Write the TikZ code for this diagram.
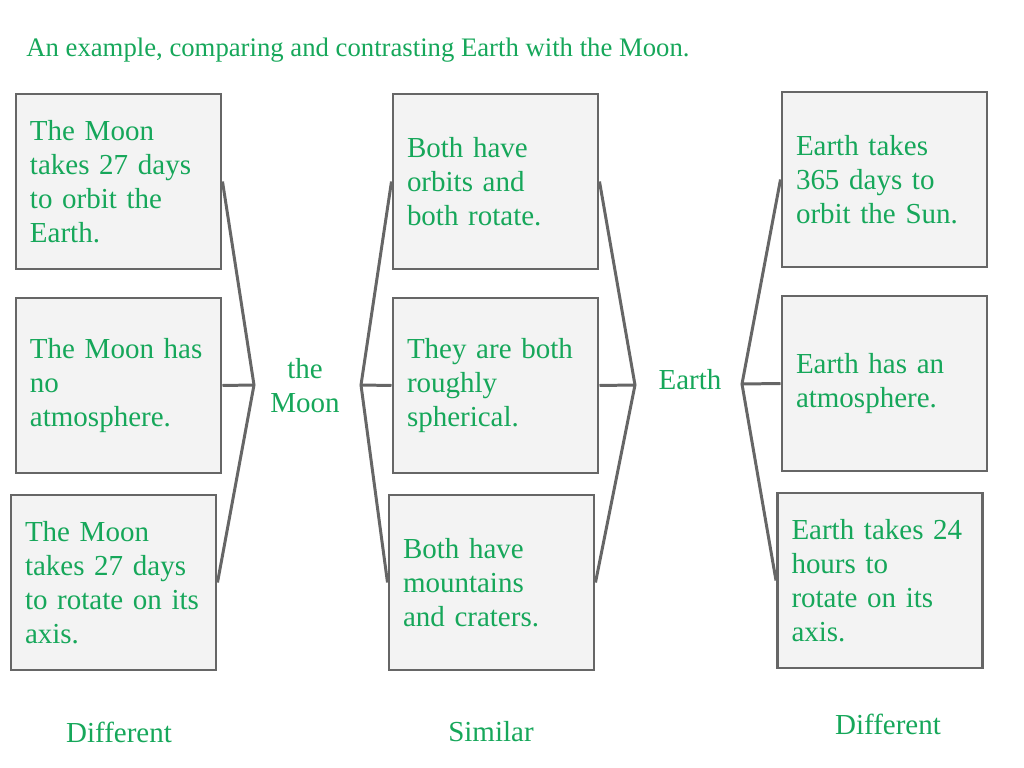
\documentclass[tikz,border=0pt]{standalone}
\usepackage{fontspec}
\setmainfont{Liberation Serif}
\usepackage{xcolor}
\definecolor{txtgreen}{RGB}{22,167,90}
\definecolor{boxgray}{RGB}{243,243,243}
\definecolor{linegray}{RGB}{102,102,102}
\tikzset{
  factbox/.style={draw=linegray, fill=boxgray, line width=1.7pt, minimum width=4.1cm,
    minimum height=3.5cm, text width=3.54cm, inner xsep=0.28cm, align=left,
    text=txtgreen, font=\fontsize{16.5}{19.4}\selectfont},
  plain/.style={text=txtgreen, font=\fontsize{16.5}{19.4}\selectfont, align=center},
  link/.style={draw=linegray, line width=1.7pt}
}
\begin{document}
\begin{tikzpicture}
\useasboundingbox (0,0) rectangle (20.48,-15.36);
\node (title) at (0.52,-1.0) [anchor=west, inner sep=0pt, text=txtgreen, font=\fontsize{15.2}{18}\selectfont] {An example, comparing and contrasting Earth with the Moon.};
% the Moon
\node (L1) at (2.37,-3.63) [factbox] {The Moon\\takes 27 days\\to orbit the\\Earth.};
\node (L2) at (2.37,-7.71) [factbox] {The Moon has\\no\\atmosphere.};
\node (L3) at (2.27,-11.65) [factbox] {The Moon\\takes 27 days\\to rotate on its\\axis.};
% both
\node (M1) at (9.91,-3.63) [factbox] {Both have\\orbits and\\both rotate.};
\node (M2) at (9.91,-7.71) [factbox] {They are both\\roughly\\spherical.};
\node (M3) at (9.83,-11.65) [factbox] {Both have\\mountains\\and craters.};
% Earth
\node (R1) at (17.69,-3.59) [factbox] {Earth takes\\365 days to\\orbit the Sun.};
\node (R2) at (17.69,-7.67) [factbox] {Earth has an\\atmosphere.};
\node (R3) at (17.60,-11.61) [factbox] {Earth takes 24\\hours to\\rotate on its\\axis.};
\coordinate (moonA) at (5.08,-7.70);
\coordinate (moonB) at (7.22,-7.70);
\coordinate (earthA) at (12.70,-7.70);
\coordinate (earthB) at (14.84,-7.68);
\node (moon) at (6.10,-7.72) [plain] {the\\Moon};
\node (earth) at (13.80,-7.60) [plain] {Earth};
\draw [link] (L1.east) -- (moonA) -- (L3.east);
\draw [link] (L2.east) -- (moonA);
\draw [link] (M1.west) -- (moonB) -- (M3.west);
\draw [link] (M2.west) -- (moonB);
\draw [link] (M1.east) -- (earthA) -- (M3.east);
\draw [link] (M2.east) -- (earthA);
\draw [link] (R1.west) -- (earthB) -- (R3.west);
\draw [link] (R2.west) -- (earthB);
\node (diffL) at (2.38,-14.64) [plain] {Different};
\node (same) at (9.82,-14.64) [plain] {Similar};
\node (diffR) at (17.76,-14.48) [plain] {Different};
\end{tikzpicture}
\end{document}
